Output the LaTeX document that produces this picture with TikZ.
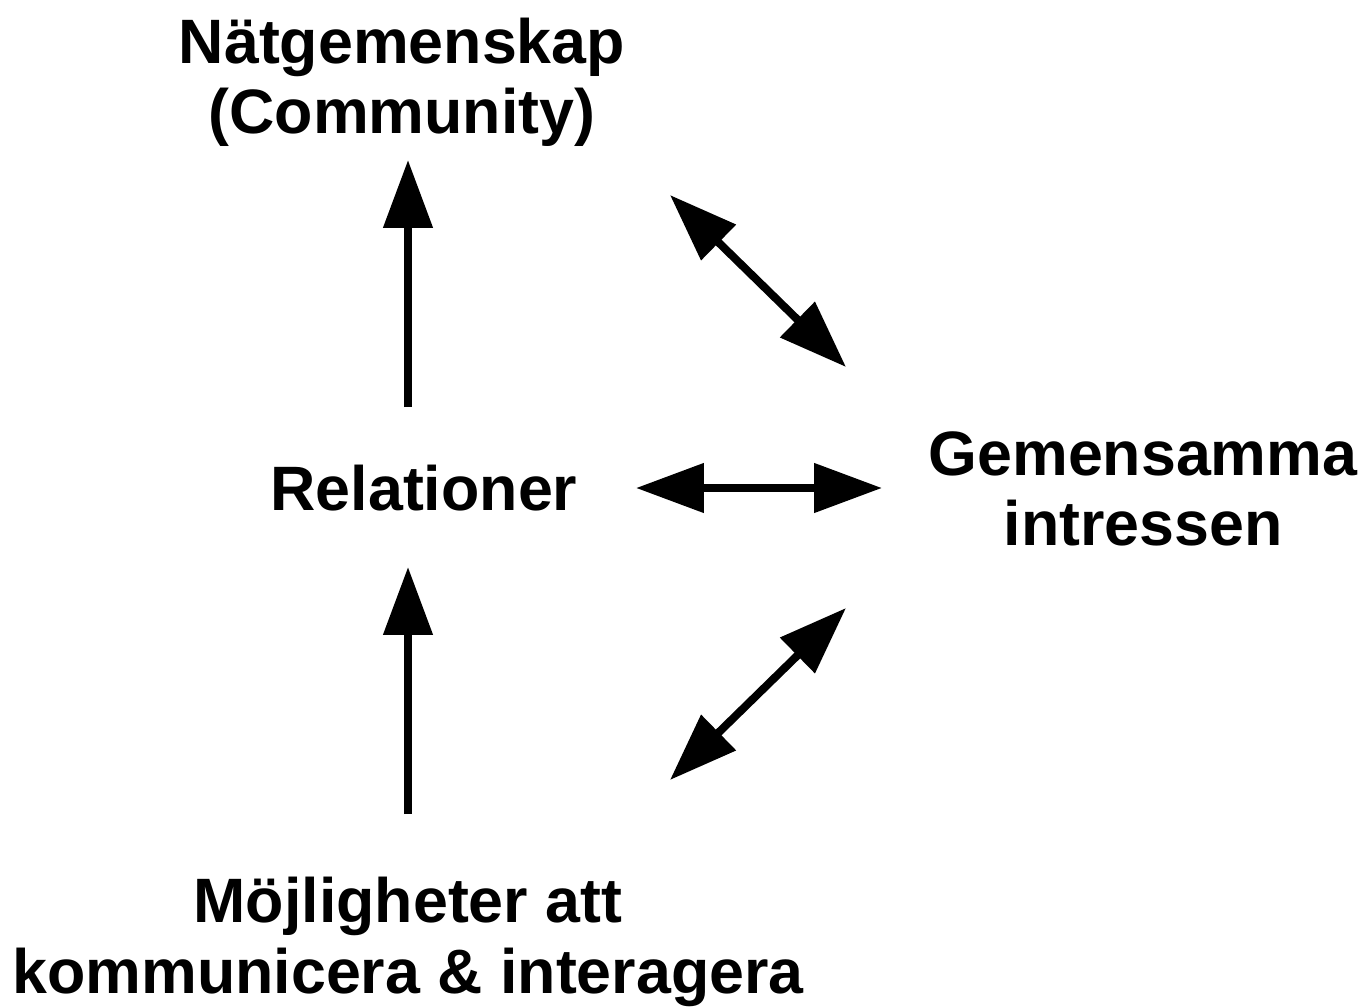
\documentclass[tikz,border=0pt]{standalone}
\usepackage{fontspec}
\setmainfont{Liberation Sans}
\usetikzlibrary{arrows.meta}
\begin{document}
\begin{tikzpicture}[x=0.02cm,y=-0.02cm,
  lbl/.style={font=\fontsize{35.7}{40}\selectfont\bfseries, align=center, inner sep=0pt},
  conn/.style={line width=0.16cm, -{Triangle[length=1.36cm,width=0.96cm]}},
  dconn/.style={line width=0.16cm, {Triangle[length=1.36cm,width=0.96cm]}-{Triangle[length=1.36cm,width=0.96cm]}}]
\useasboundingbox (0,0) rectangle (1363,1007);
\node[lbl] (natg) at (402,82) {Nätgemenskap\\(Community)};
\node[lbl] (rel) at (424,488) {Relationer};
\node[lbl] (gem) at (1143,489) {Gemensamma\\intressen};
\node[lbl] (moj) at (408,942) {Möjligheter att\\kommunicera \& interagera};
\coordinate (a1) at (408,407);
\coordinate (a2) at (408,160);
\coordinate (b1) at (408,814);
\coordinate (b2) at (408,567);
\coordinate (c1) at (636,488);
\coordinate (c2) at (882,488);
\coordinate (d1) at (670,195);
\coordinate (d2) at (846,367);
\coordinate (e1) at (846,608);
\coordinate (e2) at (670,780);
\draw[conn] (a1) -- (a2);
\draw[conn] (b1) -- (b2);
\draw[dconn] (c1) -- (c2);
\draw[dconn] (d1) -- (d2);
\draw[dconn] (e1) -- (e2);
\end{tikzpicture}
\end{document}
